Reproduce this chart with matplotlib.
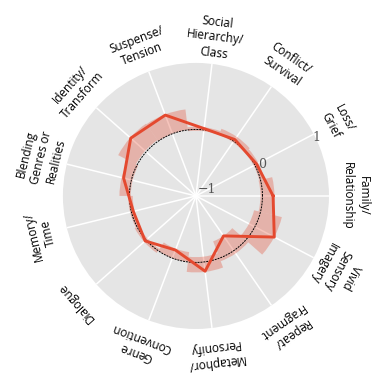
import numpy as np
import matplotlib
matplotlib.use("Agg")
import matplotlib.pyplot as plt

# categories, counter-clockwise starting at 3 o'clock
categories = [
    "Family/\nRelationship", "Loss/\nGrief", "Conflict/\nSurvival",
    "Social\nHierarchy/\nClass", "Suspense/\nTension", "Identity/\nTransform",
    "Blending\nGenres or\nRealities", "Memory/\nTime", "Dialogue",
    "Genre\nConvention", "Metaphor/\nPersonify", "Repeat/\nFragment",
    "Vivid\nSensory\nImagery",
]
values = [0.16, 0.03, 0.03, 0.02, 0.30, 0.31, 0.12, -0.03, 0.02, -0.13, 0.14, -0.27, 0.33]
lower = [-0.03, -0.02, -0.02, -0.02, 0.00, 0.02, -0.02, -0.05, -0.03, -0.15, -0.08, -0.27, -0.10]
upper = [0.18, 0.06, 0.08, 0.04, 0.31, 0.32, 0.15, 0.02, 0.04, 0.00, 0.15, 0.05, 0.33]
r_ticks = [-1, 0, 1]

red = "#e4492f"
n = len(categories)
theta = np.arange(n) * 2 * np.pi / n

fig = plt.figure(figsize=(3.79, 3.79), dpi=100)
ax = fig.add_axes([0.166, 0.132, 0.702, 0.702], projection="polar")
ax.set_facecolor("#e5e5e5")
ax.spines["polar"].set_visible(False)
ax.set_ylim(-1, 1)

# spokes only
ax.set_xticks(theta)
ax.set_xticklabels([])
ax.xaxis.grid(True, color="white", linewidth=1.1)
ax.yaxis.grid(False)
ax.set_yticks(r_ticks)
ax.set_yticklabels([])
ax.tick_params(length=0)

# interval bars
lo = np.array(lower)
hi = np.array(upper)
ax.bar(theta, hi - lo, bottom=lo, width=2 * np.pi / n, color=red,
       alpha=0.32, linewidth=0, zorder=2)

# reference circle at 0
t = np.linspace(0, 2 * np.pi, 300)
ax.plot(t, np.zeros_like(t), color="black", linestyle=(0, (2, 1)),
        linewidth=0.7, zorder=3)

# main line
vals = np.array(values + values[:1])
ang = np.append(theta, theta[0])
ax.plot(ang, vals, color=red, linewidth=2.1, zorder=4)

# radial labels
for r, txt, a, rr in [(-1, "\u22121", 28.6, -0.81), (0, "0", 25.2, 0.096), (1, "1", 25.7, 1.015)]:
    ax.text(np.deg2rad(a), rr, txt, ha="center", va="center", fontsize=9,
            family="DejaVu Serif", color="#555555", zorder=5)

# category labels, tangential
for th, lab in zip(theta, categories):
    ax.text(th, 1.4, lab, ha="center", va="center", fontsize=8.5,
            family=["Open Sans", "DejaVu Sans"],
            rotation=np.rad2deg(th) - 90, rotation_mode="anchor",
            color="black", clip_on=False, linespacing=1.25)

fig.savefig("out.png", dpi=100)
